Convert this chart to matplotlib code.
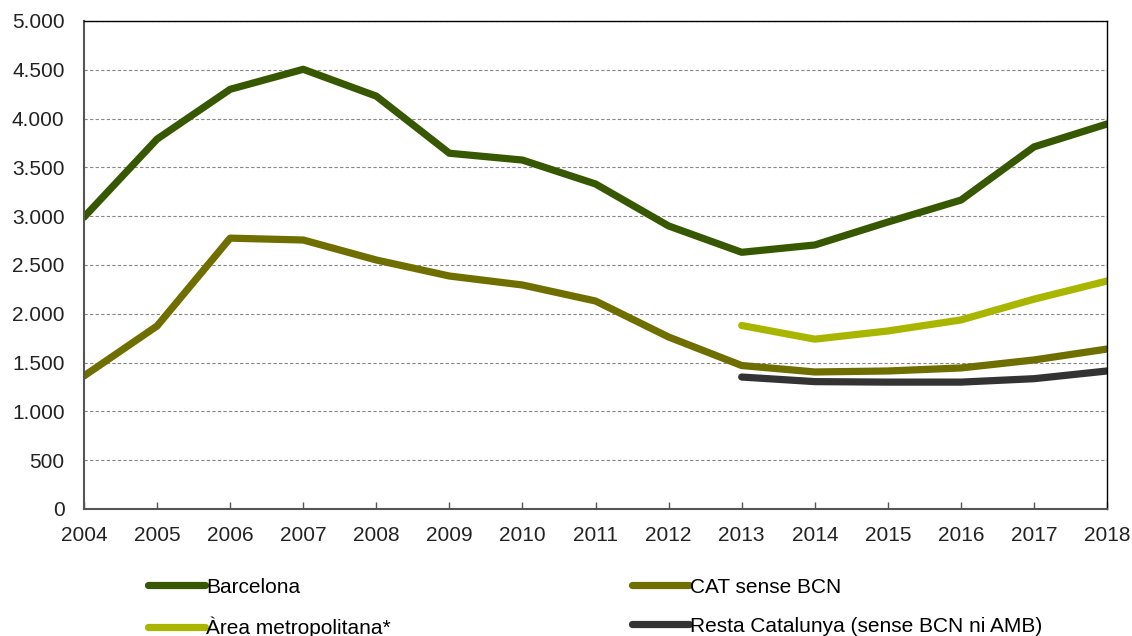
import matplotlib.pyplot as plt
from matplotlib.ticker import FuncFormatter

plt.rcParams["font.family"] = ["Liberation Sans", "DejaVu Sans"]

years = list(range(2004, 2019))
barcelona = [2990, 3790, 4300, 4505, 4230, 3645, 3575, 3330, 2900, 2630, 2705, 2940, 3165, 3710, 3945]
cat_sense_bcn = [1363, 1875, 2775, 2756, 2551, 2387, 2295, 2131, 1762, 1470, 1404, 1414, 1445, 1527, 1639]
area_years = list(range(2013, 2019))
area_metro = [1880, 1740, 1824, 1937, 2150, 2336]
resta_cat = [1352, 1305, 1300, 1300, 1335, 1414]


def thousands(v, pos):
    return f"{int(v):,}".replace(",", ".")


def main() -> None:
    fig = plt.figure(figsize=(11.32, 6.36), dpi=100)
    ax = fig.add_axes([0.0742, 0.1997, 0.9038, 0.7673])

    lw = 5.2
    kw = dict(lw=lw, solid_capstyle="round", solid_joinstyle="round")
    l1, = ax.plot(years, barcelona, color="#375800", label="Barcelona", **kw)
    l2, = ax.plot(years, cat_sense_bcn, color="#6f6f00", label="CAT sense BCN", **kw)
    l3, = ax.plot(area_years, area_metro, color="#a9b600", label="Àrea metropolitana*", **kw)
    l4, = ax.plot(area_years, resta_cat, color="#333333",
                  label="Resta Catalunya (sense BCN ni AMB)", **kw)

    ax.set_xlim(2004, 2018)
    ax.set_ylim(0, 5000)
    ax.set_xticks(years)
    ax.set_yticks(range(0, 5001, 500))
    ax.yaxis.set_major_formatter(FuncFormatter(thousands))
    ax.tick_params(axis="x", direction="in", length=5, width=1, color="#555555",
                   labelsize=15, pad=12, labelcolor="#222222")
    ax.tick_params(axis="y", length=0, labelsize=15, pad=14, labelcolor="#222222")
    ax.grid(axis="y", color="#888888", linestyle=(0, (3, 2)), linewidth=0.8)
    ax.set_axisbelow(True)

    for side in ("top", "right"):
        ax.spines[side].set_color("#000000")
        ax.spines[side].set_linewidth(1.0)
    for side in ("left", "bottom"):
        ax.spines[side].set_color("#555555")
        ax.spines[side].set_linewidth(1.5)

    fig.legend(handles=[l1, l3, l2, l4], ncol=2, frameon=False,
               loc="upper left", bbox_to_anchor=(0.1234, 0.105),
               fontsize=15, handlelength=2.75, handletextpad=0.05,
               columnspacing=11.55, labelspacing=0.96, borderaxespad=0)

    fig.savefig("out.png", dpi=100)


if __name__ == "__main__":
    main()
